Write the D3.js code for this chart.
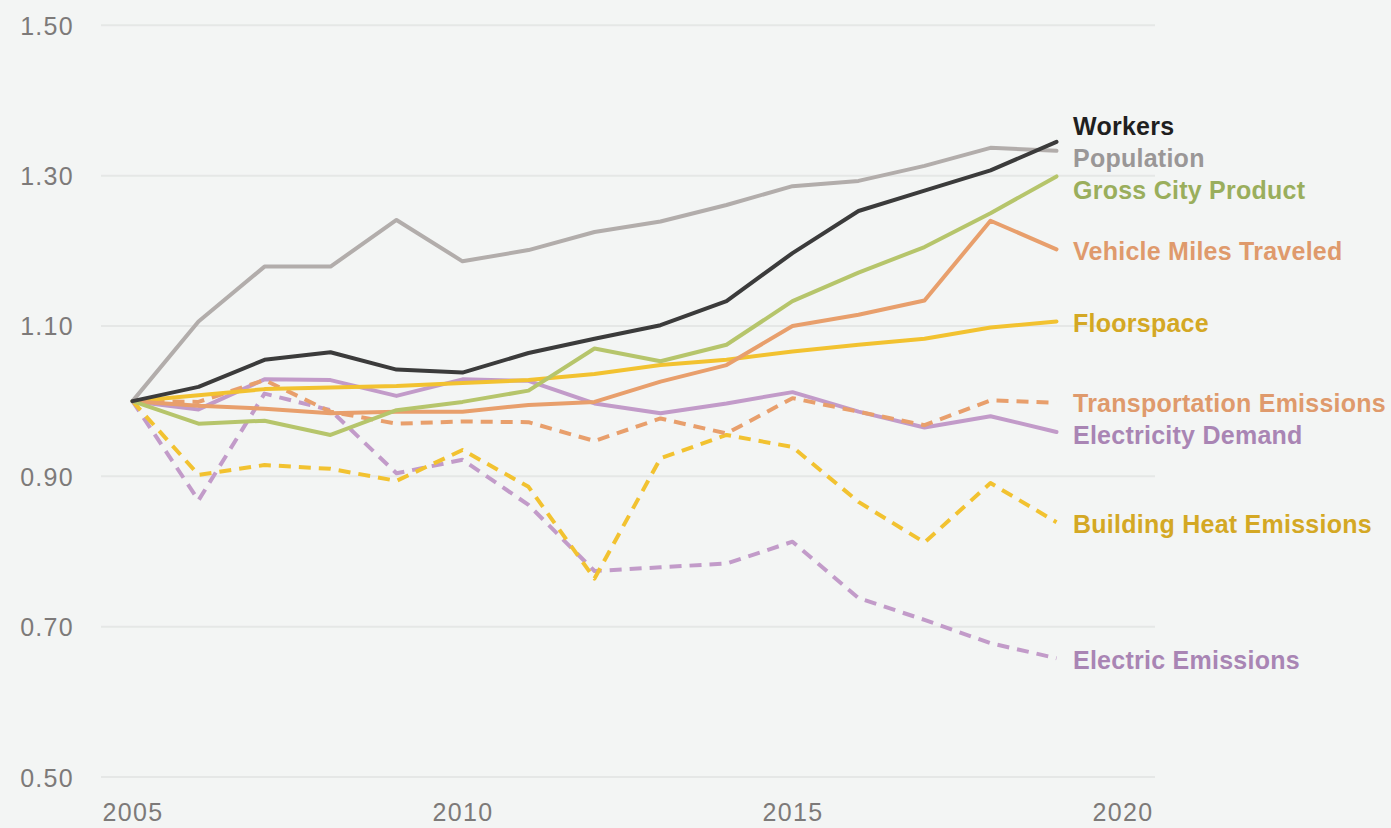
<!DOCTYPE html>
<html>
<head>
<meta charset="utf-8">
<script src="https://cdn.jsdelivr.net/npm/d3@7"></script>
<style>
html,body{margin:0;padding:0;background:#f3f5f4;}
svg{display:block;}
</style>
</head>
<body>
<svg id="chart" width="1391" height="828"></svg>
<script>
const years = [2005,2006,2007,2008,2009,2010,2011,2012,2013,2014,2015,2016,2017,2018,2019];
const yTicks = [0.5, 0.7, 0.9, 1.1, 1.3, 1.5];
const xTicks = [2005, 2010, 2015, 2020];

const workers     = [1.000,1.019,1.055,1.065,1.042,1.038,1.064,1.083,1.101,1.133,1.197,1.253,1.280,1.307,1.345];
const population  = [1.000,1.106,1.179,1.179,1.241,1.186,1.201,1.225,1.239,1.261,1.286,1.293,1.313,1.337,1.333];
const grossCity   = [1.000,0.970,0.974,0.955,0.988,0.999,1.014,1.070,1.053,1.075,1.133,1.171,1.205,1.250,1.299];
const vehicleMiles= [1.000,0.994,0.990,0.984,0.986,0.986,0.995,0.999,1.026,1.048,1.100,1.115,1.134,1.240,1.202];
const floorspace  = [1.000,1.008,1.016,1.018,1.020,1.024,1.028,1.036,1.048,1.055,1.066,1.075,1.083,1.098,1.106];
const transEm     = [1.000,0.999,1.028,0.986,0.970,0.973,0.972,0.947,0.977,0.957,1.004,0.986,0.968,1.001,0.998];
const elecDemand  = [1.000,0.989,1.029,1.028,1.007,1.029,1.027,0.997,0.984,0.997,1.012,0.986,0.965,0.980,0.959];
const buildingEm  = [1.000,0.902,0.915,0.910,0.894,0.935,0.886,0.764,0.924,0.955,0.939,0.866,0.812,0.891,0.839];
const electricEm  = [1.000,0.868,1.010,0.988,0.904,0.922,0.862,0.774,0.779,0.784,0.813,0.738,0.709,0.678,0.658];

const seriesNames = ["Workers","Population","Gross City Product","Vehicle Miles Traveled","Floorspace","Transportation Emissions","Electricity Demand","Building Heat Emissions","Electric Emissions"];
const seriesValues = [workers,population,grossCity,vehicleMiles,floorspace,transEm,elecDemand,buildingEm,electricEm];
const lineColors  = ["#3b3b3b","#b2adab","#b6c56b","#e89f6c","#f2c230","#e89f6c","#c29bc9","#f2c230","#c29bc9"];
const labelColors = ["#1f1f1f","#9a9797","#9aae5c","#df9a6c","#d4a824","#df9a6c","#a985b4","#d4a824","#a985b4"];
const dashed      = [false,false,false,false,false,true,false,true,true];

const svg = d3.select("#chart");
svg.append("rect").attr("width",1391).attr("height",828).attr("fill","#f3f5f4");

const x = d3.scaleLinear().domain([2005,2020]).range([132.5,1122.5]);
const y = d3.scaleLinear().domain([0.5,1.5]).range([777,25.3]);

// gridlines
svg.append("g").selectAll("line").data(yTicks).join("line")
  .attr("x1",101).attr("x2",1155)
  .attr("y1",d=>y(d)).attr("y2",d=>y(d))
  .attr("stroke","#e5e7e6").attr("stroke-width",2);

// y axis labels
const yAxis = svg.append("g").attr("transform","translate(74,0)")
  .call(d3.axisLeft(y).tickValues(yTicks).tickSize(0).tickPadding(0).tickFormat(d3.format(".2f")));
yAxis.select(".domain").remove();
yAxis.selectAll("text")
  .attr("font-family","'Liberation Sans', Arial, sans-serif")
  .attr("font-size",25).attr("fill","#7d7a79")
  .attr("letter-spacing","1.3px")
  .attr("dy","0.36em");

// x axis labels
const xAxis = svg.append("g").attr("transform","translate(0,802)")
  .call(d3.axisBottom(x).tickValues(xTicks).tickSize(0).tickPadding(0).tickFormat(d3.format("d")));
xAxis.select(".domain").remove();
xAxis.selectAll("text")
  .attr("font-family","'Liberation Sans', Arial, sans-serif")
  .attr("font-size",25).attr("fill","#7d7a79")
  .attr("letter-spacing","1.3px")
  .attr("dy","0.74em");

// lines
const line = d3.line().x((d,i)=>x(years[i])).y(d=>y(d));
const order = [8,7,6,5,4,3,2,1,0];
svg.append("g").selectAll("path").data(order).join("path")
  .attr("d",k=>line(seriesValues[k]))
  .attr("fill","none")
  .attr("stroke",k=>lineColors[k])
  .attr("stroke-width",4)
  .attr("stroke-linejoin","round")
  .attr("stroke-linecap",k=>dashed[k]?"butt":"round")
  .attr("stroke-dasharray",k=>dashed[k]?"12,8":null);

// labels with simple collision avoidance
const minGap = 32;
let items = seriesValues.map((v,i)=>({i, target: y(v[v.length-1])+1.5}));
items.sort((a,b)=>a.target-b.target);
let groups = items.map(it=>({members:[it], pos: it.target}));
let changed = true;
while(changed){
  changed = false;
  for(let g=0; g<groups.length-1; g++){
    const a = groups[g], b = groups[g+1];
    const aEnd = a.pos + (a.members.length-1)*minGap;
    if(b.pos - aEnd < minGap){
      const members = a.members.concat(b.members);
      const mean = d3.mean(members, m=>m.target);
      const avgIdx = (members.length-1)/2;
      groups.splice(g,2,{members, pos: mean - avgIdx*minGap});
      changed = true; break;
    }
  }
}
groups.forEach(g=>g.members.forEach((m,k)=>m.y = g.pos + k*minGap));

svg.append("g").selectAll("text").data(items).join("text")
  .attr("x",1073)
  .attr("y",d=>d.y)
  .attr("dy","0.36em")
  .attr("font-family","'Liberation Sans', Arial, sans-serif")
  .attr("font-size",25)
  .attr("font-weight",700)
  .attr("letter-spacing","0.25px")
  .attr("fill",d=>labelColors[d.i])
  .text(d=>seriesNames[d.i]);
</script>
</body>
</html>
